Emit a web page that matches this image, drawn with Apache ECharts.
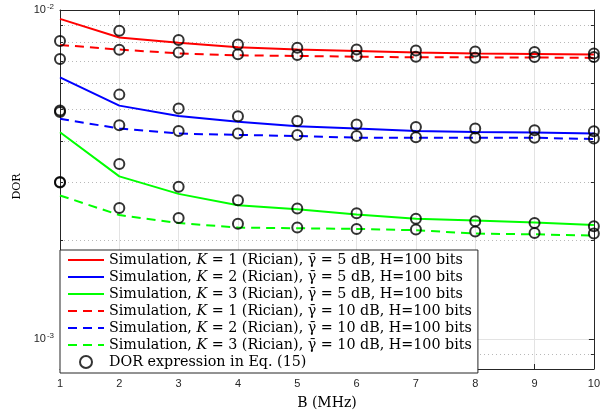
<!DOCTYPE html>
<html>
<head>
<meta charset="utf-8">
<script src="https://cdn.jsdelivr.net/npm/echarts@6/dist/echarts.min.js"></script>
<style>
  html, body { margin: 0; padding: 0; background: #fff; }
  #chart { width: 603px; height: 415px; }
</style>
</head>
<body>
<div id="chart"></div>
<script>
const bandwidth = [1, 2, 3, 4, 5, 6, 7, 8, 9, 10];

// simulation curves
const simK1g5 = [9.4e-3, 8.25e-3, 7.95e-3, 7.7e-3, 7.58e-3, 7.5e-3, 7.42e-3, 7.37e-3, 7.35e-3, 7.32e-3];
const simK2g5 = [6.24e-3, 5.12e-3, 4.76e-3, 4.57e-3, 4.43e-3, 4.36e-3, 4.29e-3, 4.26e-3, 4.24e-3, 4.21e-3];
const simK3g5 = [4.25e-3, 3.12e-3, 2.76e-3, 2.55e-3, 2.48e-3, 2.39e-3, 2.32e-3, 2.29e-3, 2.26e-3, 2.22e-3];
const simK1g10 = [7.83e-3, 7.58e-3, 7.38e-3, 7.28e-3, 7.25e-3, 7.21e-3, 7.18e-3, 7.18e-3, 7.17e-3, 7.15e-3];
const simK2g10 = [4.67e-3, 4.36e-3, 4.21e-3, 4.17e-3, 4.14e-3, 4.09e-3, 4.09e-3, 4.09e-3, 4.09e-3, 4.05e-3];
const simK3g10 = [2.73e-3, 2.38e-3, 2.25e-3, 2.18e-3, 2.17e-3, 2.16e-3, 2.14e-3, 2.09e-3, 2.08e-3, 2.06e-3];

// analytical DOR points (circles)
const anaK1g5 = [8.05e-3, 8.65e-3, 8.1e-3, 7.86e-3, 7.68e-3, 7.58e-3, 7.53e-3, 7.48e-3, 7.45e-3, 7.38e-3];
const anaK1g10 = [7.1e-3, 7.57e-3, 7.42e-3, 7.33e-3, 7.3e-3, 7.25e-3, 7.21e-3, 7.16e-3, 7.19e-3, 7.19e-3];
const anaK2g5 = [4.95e-3, 5.53e-3, 5.02e-3, 4.75e-3, 4.6e-3, 4.49e-3, 4.41e-3, 4.36e-3, 4.31e-3, 4.28e-3];
const anaK2g10 = [4.9e-3, 4.46e-3, 4.29e-3, 4.21e-3, 4.17e-3, 4.14e-3, 4.1e-3, 4.09e-3, 4.09e-3, 4.07e-3];
const anaK3g5 = [3.0e-3, 3.4e-3, 2.9e-3, 2.64e-3, 2.49e-3, 2.41e-3, 2.32e-3, 2.28e-3, 2.25e-3, 2.2e-3];
const anaK3g10 = [2.99e-3, 2.5e-3, 2.33e-3, 2.24e-3, 2.18e-3, 2.16e-3, 2.15e-3, 2.12e-3, 2.1e-3, 2.09e-3];

const AXIS = "#262626";
const tickFont = "Liberation Sans";
const serif = "DejaVu Serif";

const simNames = [
  "Simulation, {k|K} = 1 (Rician), γ\u0304 = 5 dB, H=100 bits",
  "Simulation, {k|K} = 2 (Rician), γ\u0304 = 5 dB, H=100 bits",
  "Simulation, {k|K} = 3 (Rician), γ\u0304 = 5 dB, H=100 bits",
  "Simulation, {k|K} = 1 (Rician), γ\u0304 = 10 dB, H=100 bits",
  "Simulation, {k|K} = 2 (Rician), γ\u0304 = 10 dB, H=100 bits",
  "Simulation, {k|K} = 3 (Rician), γ\u0304 = 10 dB, H=100 bits",
];
const anaName = "DOR expression in Eq. (15)";

const simData = [simK1g5, simK2g5, simK3g5, simK1g10, simK2g10, simK3g10];
const colors = ["#ff0000", "#0000ff", "#00ff00", "#ff0000", "#0000ff", "#00ff00"];
const anaData = [anaK1g5, anaK1g10, anaK2g5, anaK2g10, anaK3g5, anaK3g10];

const pairs = (ys) => bandwidth.map((b, i) => [b, ys[i]]);

const series = [];
simData.forEach((ys, i) => {
  series.push({
    name: simNames[i],
    type: "line",
    data: pairs(ys),
    symbol: "none",
    z: 3,
    color: colors[i],
    lineStyle: { color: colors[i], width: 2, type: i < 3 ? "solid" : [9, 6] },
  });
});
series.push({
  name: anaName,
  type: "scatter",
  z: 4,
  symbol: "circle",
  symbolSize: 10,
  itemStyle: { color: "rgba(0,0,0,0)", borderColor: "#000", borderWidth: 2 },
  data: anaData.flatMap((ys) => pairs(ys)),
});

const logLabel = (v) => {
  const e = Math.log10(v);
  if (Math.abs(e - Math.round(e)) > 1e-6) return "";
  return "{b|10}{s|" + Math.round(e) + "}";
};

// hide the symbol that line series put in their legend icon
const legendData = simNames
  .map((n) => ({ name: n, itemStyle: { opacity: 0 } }))
  .concat([{ name: anaName }]);

const chart = echarts.init(document.getElementById("chart"));
chart.setOption({
  animation: false,
  grid: { left: 60, right: 5, top: 10, bottom: 42, show: false },
  legend: {
    data: legendData,
    orient: "vertical",
    left: 60,
    top: 250,
    itemWidth: 36,
    itemHeight: 12,
    itemGap: 3,
    padding: [3, 6, 4, 7],
    backgroundColor: "#fff",
    borderColor: AXIS,
    borderWidth: 1,
    borderRadius: 0,
    selectedMode: false,
    textStyle: {
      fontFamily: serif,
      fontSize: 14.3,
      color: "#000",
      lineHeight: 12,
      rich: {
        k: { fontFamily: serif, fontSize: 14.3, fontStyle: "italic", lineHeight: 12 },
      },
    },
  },
  xAxis: [
    {
      type: "value",
      min: 1,
      max: 10,
      interval: 1,
      name: "B (MHz)",
      nameLocation: "middle",
      nameGap: 27,
      nameTextStyle: { fontFamily: serif, fontSize: 14, color: "#000" },
      axisLine: { onZero: false, lineStyle: { color: AXIS, width: 1 } },
      axisTick: { inside: true, length: 5, lineStyle: { color: AXIS } },
      axisLabel: { fontFamily: tickFont, fontSize: 11, color: AXIS, margin: 9 },
      splitLine: { show: true, lineStyle: { color: "#e3e3e3", width: 1 } },
    },
    {
      type: "value",
      position: "top",
      min: 1,
      max: 10,
      interval: 1,
      axisLine: { onZero: false, lineStyle: { color: AXIS, width: 1 } },
      axisTick: { inside: true, length: 5, lineStyle: { color: AXIS } },
      axisLabel: { show: false },
      splitLine: { show: false },
    },
  ],
  yAxis: [
    {
      type: "log",
      logBase: 10,
      min: 8.1e-4,
      max: 1e-2,
      name: "DOR",
      nameLocation: "middle",
      nameGap: 37,
      nameTextStyle: { fontFamily: serif, fontSize: 11, color: "#000", padding: [0, 0, 0, 6] },
      axisLine: { show: true, lineStyle: { color: AXIS, width: 1 } },
      axisTick: { inside: true, length: 5, lineStyle: { color: AXIS } },
      minorTick: { show: true, splitNumber: 9, length: 3, lineStyle: { color: AXIS } },
      minorSplitLine: { show: true, lineStyle: { type: [1, 3], color: "#b8b8b8", width: 1 } },
      axisLabel: {
        fontFamily: tickFont,
        color: AXIS,
        margin: 6,
        formatter: logLabel,
        rich: {
          b: { fontFamily: tickFont, fontSize: 11, color: AXIS },
          s: { fontFamily: tickFont, fontSize: 8, color: AXIS, verticalAlign: "top", padding: [0, 0, 6, 1] },
        },
      },
      splitLine: { show: true, lineStyle: { color: "#e3e3e3", width: 1 } },
    },
    {
      type: "log",
      logBase: 10,
      min: 8.1e-4,
      max: 1e-2,
      position: "right",
      axisLine: { show: true, lineStyle: { color: AXIS, width: 1 } },
      axisTick: { inside: true, length: 5, lineStyle: { color: AXIS } },
      minorTick: { show: true, splitNumber: 9, length: 3, lineStyle: { color: AXIS } },
      axisLabel: { show: false },
      splitLine: { show: false },
    },
  ],
  series: series,
});
</script>
</body>
</html>
